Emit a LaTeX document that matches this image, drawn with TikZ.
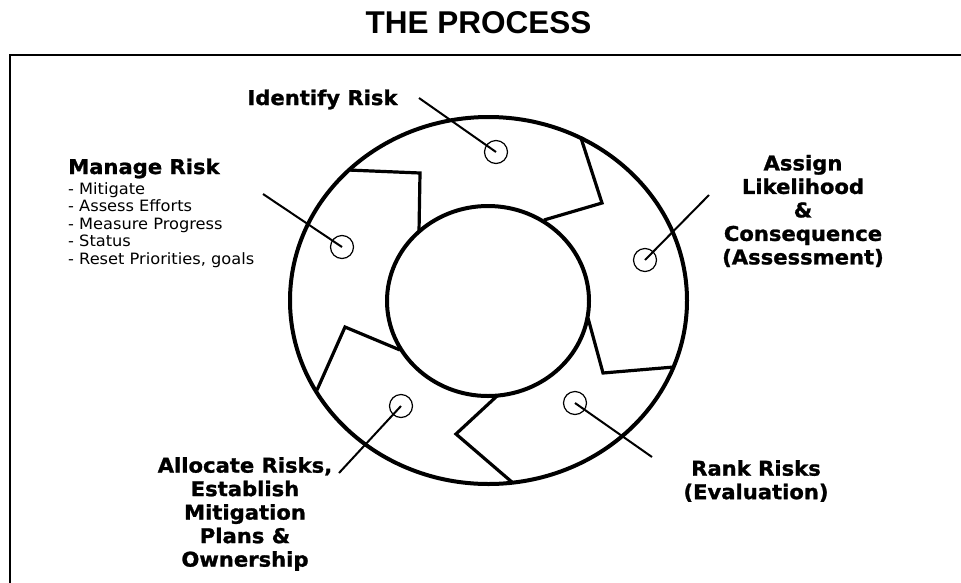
\documentclass[tikz,border=0pt]{standalone}
\usepackage{fontspec}
\setmainfont{DejaVu Sans}
\newfontfamily\headfont{DejaVu Sans Bold}[FakeBold=1.2, FakeStretch=1.04]
\newfontfamily\itemfont{DejaVu Sans}[FakeStretch=1.04]
\newfontfamily\titlefont{Liberation Sans}
\begin{document}
\begin{tikzpicture}[x=1pt,y=-1pt,
  ring/.style={line width=4pt},
  divider/.style={line width=3.2pt, line join=miter},
  spot/.style={circle, draw, line width=1.2pt, minimum size=23pt, inner sep=0pt},
  leader/.style={line width=2pt},
  heading/.style={font=\headfont\fontsize{20.3}{23.5}\selectfont, inner sep=0pt, align=center},
  items/.style={font=\itemfont\fontsize{15.6}{17.6}\selectfont, inner sep=0pt, align=left}]
\useasboundingbox (0,0) rectangle (961,582);
% frame
\draw[line width=2.6pt] (10,600) -- (10,55) -- (980,55);
% title
\node[font=\titlefont\bfseries\fontsize{31.5}{36}\selectfont, inner sep=0pt] (title) at (478.5,22.5) {THE PROCESS};
% ring
\draw[ring] (488.5,300.5) ellipse [x radius=198.5, y radius=183.5];
\draw[ring] (488,301) ellipse [x radius=101, y radius=95];
% dividers (arrow shapes)
\draw[divider] (580.5,136.5) -- (602,203) -- (544,220);
\draw[divider] (588,318) -- (603,373) -- (674,367);
\draw[divider] (497,396) -- (456,434) -- (513,483);
\draw[divider] (400,350) -- (345,327) -- (317,390);
\draw[divider] (348,170) -- (420,173) -- (419,232);
% small circles
\node[spot] (s1) at (496,152) {};
\node[spot] (s2) at (645,260) {};
\node[spot] (s3) at (575,403) {};
\node[spot] (s4) at (401,406) {};
\node[spot] (s5) at (342,247) {};
% labels
\node[heading, anchor=base] (identify) at (322.5,105) {Identify Risk};
\node[heading, anchor=base west] (manage) at (68,174) {Manage Risk};
\node[items, anchor=north west] (tasks) at (68,182) {- Mitigate\\- Assess Efforts\\- Measure Progress\\- Status\\- Reset Priorities, goals};
\node[heading] (assign) at (803,211) {Assign\\Likelihood\\\&\\Consequence\\(Assessment)};
\node[heading] (rank) at (756,481) {Rank Risks\\(Evaluation)};
\node[heading] (allocate) at (245,514) {Allocate Risks,\\Establish\\Mitigation\\Plans \&\\Ownership};
% leader lines
\coordinate (l1) at (419,98);
\coordinate (l2) at (709,195);
\coordinate (l3) at (652,457);
\coordinate (l4) at (339,473);
\coordinate (l5) at (263,194);
\draw[leader] (l1) -- (s1.center);
\draw[leader] (l2) -- (s2.center);
\draw[leader] (l3) -- (s3.center);
\draw[leader] (l4) -- (s4.center);
\draw[leader] (l5) -- (s5.center);
\end{tikzpicture}
\end{document}
